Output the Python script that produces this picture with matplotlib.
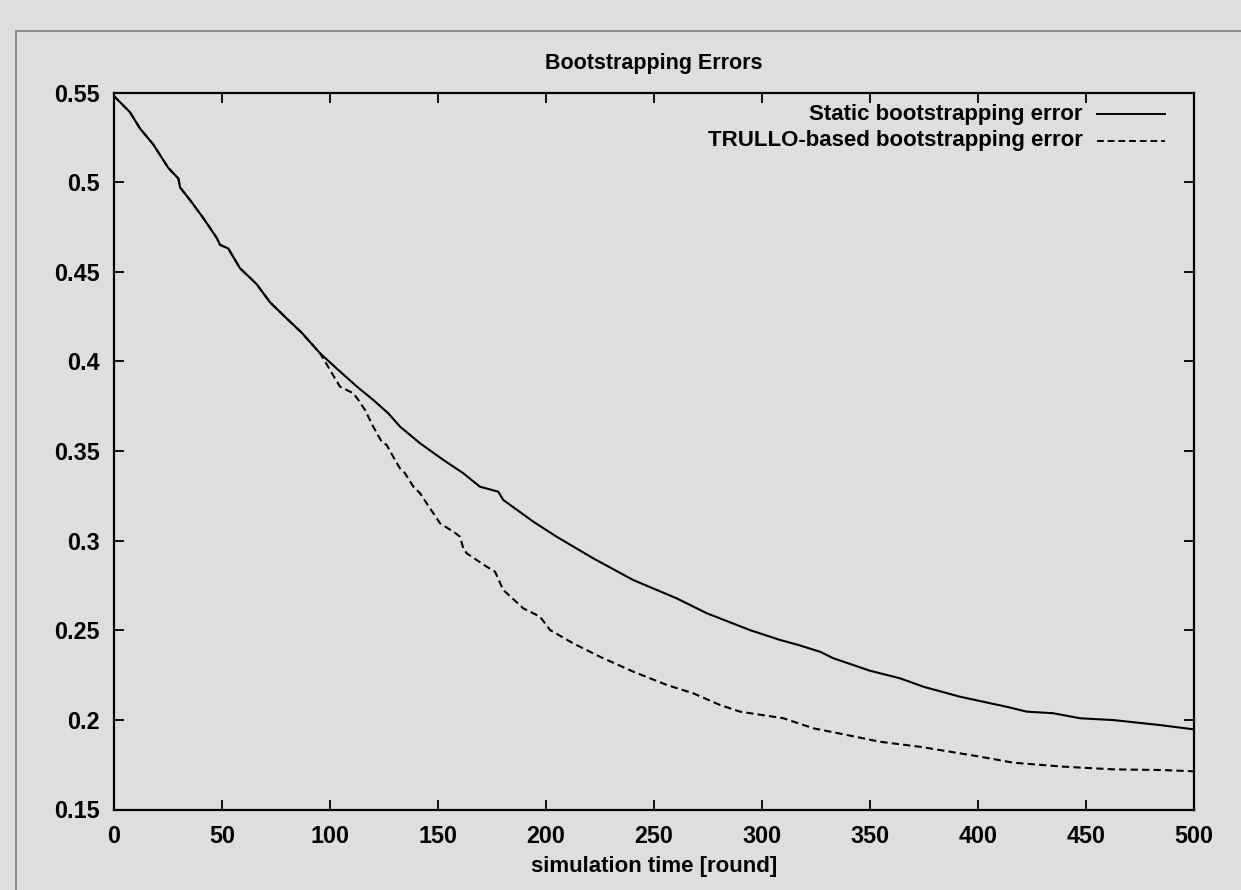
import matplotlib

matplotlib.use("Agg")
import matplotlib.pyplot as plt
from matplotlib.patches import Rectangle

# values
static_rounds = [
    0, 7.4, 12, 18.2, 25.1, 29.8, 30.6, 35.2, 41.3, 47.5, 49.1, 52.9, 58.3, 66.1,
    72.2, 79.9, 86.9, 95.4, 103.1, 112.4, 120, 127, 132.4, 141.7, 152.5, 161.7,
    169.4, 177.9, 180.2, 194.1, 204.9, 221.9, 240.4, 260.5, 274.4, 294.4, 308.3,
    316.8, 326.9, 333, 350, 363.9, 374.7, 391.7, 413.3, 422.5, 434.9, 447.2,
    462.6, 484.3, 500,
]
static_error = [
    0.548, 0.539, 0.530, 0.521, 0.508, 0.502, 0.497, 0.490, 0.480, 0.469, 0.465,
    0.463, 0.452, 0.443, 0.433, 0.424, 0.416, 0.4045, 0.396, 0.386, 0.3785,
    0.371, 0.3636, 0.3543, 0.345, 0.3376, 0.3301, 0.3273, 0.3227, 0.3106,
    0.3022, 0.2901, 0.278, 0.2678, 0.2595, 0.2501, 0.2446, 0.2418, 0.238,
    0.2344, 0.2274, 0.2232, 0.2185, 0.2129, 0.2073, 0.2046, 0.2037, 0.2009,
    0.1999, 0.1971, 0.1947,
]

trullo_rounds = [
    0, 7.4, 12, 18.2, 25.1, 29.8, 30.6, 35.2, 41.3, 47.5, 49.1, 52.9, 58.3, 66.1,
    72.2, 79.9, 86.9, 95.4, 97.7, 100, 104.6, 110.8, 113.1, 116.2, 120, 123.9,
    126.2, 130.1, 132.4, 134.7, 138.6, 141.7, 146.3, 149.4, 150.9, 157.1, 160.2,
    161.7, 163.3, 167.9, 172.5, 176.4, 180.2, 189.5, 197.2, 201.9, 212.6, 225,
    240.4, 255.9, 268.2, 280.6, 289.8, 309.9, 323.8, 339.2, 354.6, 373.1, 400.9,
    416.4, 439.5, 462.6, 485.8, 500,
]
trullo_error = [
    0.548, 0.539, 0.530, 0.521, 0.508, 0.502, 0.497, 0.490, 0.480, 0.469, 0.465,
    0.463, 0.452, 0.443, 0.433, 0.424, 0.416, 0.4045, 0.400, 0.3952, 0.3859,
    0.3822, 0.3785, 0.3729, 0.3636, 0.3552, 0.3534, 0.345, 0.3403, 0.3376,
    0.3301, 0.3264, 0.318, 0.3125, 0.3097, 0.305, 0.3022, 0.2957, 0.2929,
    0.2892, 0.2855, 0.2827, 0.2725, 0.2622, 0.2576, 0.2501, 0.2427, 0.2352,
    0.2269, 0.2195, 0.2148, 0.2083, 0.2046, 0.2009, 0.1953, 0.1916, 0.1878,
    0.185, 0.1795, 0.1761, 0.1739, 0.1724, 0.172, 0.1713,
]

x_ticks = [0, 50, 100, 150, 200, 250, 300, 350, 400, 450, 500]
y_ticks = [0.15, 0.2, 0.25, 0.3, 0.35, 0.4, 0.45, 0.5, 0.55]
y_tick_labels = ["0.15", "0.2", "0.25", "0.3", "0.35", "0.4", "0.45", "0.5", "0.55"]

series_names = ["Static bootstrapping error", "TRULLO-based bootstrapping error"]

bg = "#dedede"
plt.rcParams["font.family"] = ["Liberation Sans", "DejaVu Sans"]
font = {"family": "Liberation Sans", "weight": "bold", "size": 16}
tick_font = {"family": "Liberation Sans", "weight": "bold", "size": 16.8}
title_font = {"family": "Liberation Sans", "weight": "bold", "size": 15.5}

W, H = 1241, 890
fig = plt.figure(figsize=(W / 100, H / 100), dpi=100, facecolor=bg)
ax = fig.add_axes([114 / W, 1 - 809.5 / H, 1080 / W, 717 / H])
ax.set_facecolor(bg)

# grey frame, only the top and left edges are visible in the picture
fig.add_artist(
    Rectangle(
        (16 / W, -0.2), 1.5, 1 - 31 / H + 0.2,
        transform=fig.transFigure, fill=False, edgecolor="#8c8c8c", lw=1.5,
    )
)

ax.plot(static_rounds, static_error, color="black", lw=1.5)
ax.plot(trullo_rounds, trullo_error, color="black", lw=1.5, dashes=(3.5, 2))

ax.set_xlim(0, 500)
ax.set_ylim(0.15, 0.55)
ax.set_xticks(x_ticks)
ax.set_xticklabels([str(t) for t in x_ticks], fontdict=tick_font)
ax.set_yticks(y_ticks)
ax.set_yticklabels(y_tick_labels, fontdict=tick_font)
ax.tick_params(direction="in", length=7.5, width=1.3, top=True, right=True)
ax.tick_params(axis="x", pad=11)
ax.tick_params(axis="y", pad=10)
for spine in ax.spines.values():
    spine.set_linewidth(1.6)

ax.set_title("Bootstrapping Errors", fontdict=title_font, pad=17)
ax.set_xlabel("simulation time [round]", fontdict=font, labelpad=6)

# gnuplot style key: right aligned text, sample line on the right
ax.text(0.897, 0.970, series_names[0], transform=ax.transAxes,
        ha="right", va="center", fontdict=font)
ax.plot([0.910, 0.973], [0.970, 0.970], transform=ax.transAxes,
        color="black", lw=1.4)
ax.text(0.897, 0.933, series_names[1], transform=ax.transAxes,
        ha="right", va="center", fontdict=font)
ax.plot([0.910, 0.973], [0.933, 0.933], transform=ax.transAxes,
        color="black", lw=1.4, dashes=(3.5, 2))

fig.savefig("out.png", dpi=100, facecolor=bg)
